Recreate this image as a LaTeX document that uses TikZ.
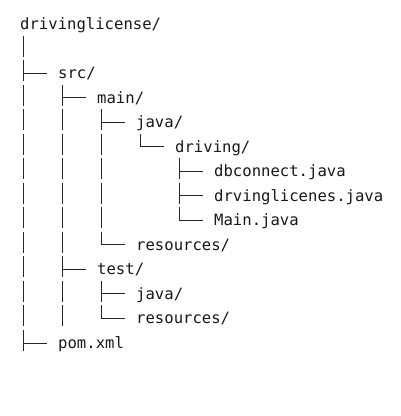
\documentclass[tikz,border=0pt]{standalone}
\usepackage{fontspec}
\newfontfamily\treemono{DejaVu Sans Mono}
\tikzset{
  tname/.style={font=\treemono\fontsize{15.6}{19}\selectfont, anchor=base west, inner sep=0pt, text=black!90},
  treeline/.style={line width=1pt, draw=black!85}
}
% row centre: 24.54*r - 0.54 ; column x: 23 + 39*c
\newcommand\vb[2]{\draw[treeline] ({23+39*#1},{24.54*#2-0.54-13}) -- ++(0,21);}
\newcommand\tee[2]{\draw[treeline] ({23+39*#1},{24.54*#2-0.54-13}) -- ++(0,21);
  \draw[treeline] ({23+39*#1},{24.54*#2-0.54}) -- ++(24,0);}
\newcommand\elbow[2]{\draw[treeline] ({23+39*#1},{24.54*#2-0.54-13}) -- ({23+39*#1},{24.54*#2-0.54}) -- ++(24,0);}
\newcommand\lbl[4]{\node[tname] (#1) at ({58+39*#2},{24.54*#3-0.54+5.5}) {#4};}
\begin{document}
\begin{tikzpicture}[x=1pt,y=-1pt]
\useasboundingbox[fill=white] (0,0) rectangle (400,416);
% row 1
\node[tname] (root) at (20,{24.54-0.54+5.5}) {drivinglicense/};
% row 2
\vb{0}{2}
% row 3
\tee{0}{3} \lbl{src}{0}{3}{src/}
% row 4
\vb{0}{4} \tee{1}{4} \lbl{main}{1}{4}{main/}
% row 5
\vb{0}{5} \vb{1}{5} \tee{2}{5} \lbl{mjava}{2}{5}{java/}
% row 6
\vb{0}{6} \vb{1}{6} \vb{2}{6} \elbow{3}{6} \lbl{driving}{3}{6}{driving/}
% row 7
\vb{0}{7} \vb{1}{7} \vb{2}{7} \tee{4}{7} \lbl{db}{4}{7}{dbconnect.java}
% row 8
\vb{0}{8} \vb{1}{8} \vb{2}{8} \tee{4}{8} \lbl{drv}{4}{8}{drvinglicenes.java}
% row 9
\vb{0}{9} \vb{1}{9} \vb{2}{9} \elbow{4}{9} \lbl{mainj}{4}{9}{Main.java}
% row 10
\vb{0}{10} \vb{1}{10} \elbow{2}{10} \lbl{mres}{2}{10}{resources/}
% row 11
\vb{0}{11} \tee{1}{11} \lbl{test}{1}{11}{test/}
% row 12
\vb{0}{12} \vb{1}{12} \tee{2}{12} \lbl{tjava}{2}{12}{java/}
% row 13
\vb{0}{13} \vb{1}{13} \elbow{2}{13} \lbl{tres}{2}{13}{resources/}
% row 14
\tee{0}{14} \lbl{pom}{0}{14}{pom.xml}
\end{tikzpicture}
\end{document}
